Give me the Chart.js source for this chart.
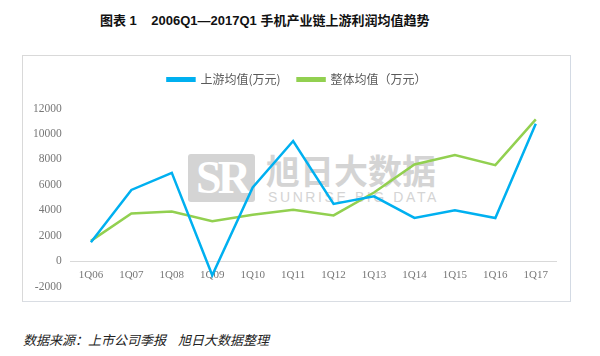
<!DOCTYPE html>
<html>
<head>
<meta charset="utf-8">
<script src="https://cdn.jsdelivr.net/npm/chart.js@4/dist/chart.umd.min.js"></script>
<style>
  html, body { margin: 0; padding: 0; background: #fff; }
  #wrap { position: relative; width: 600px; height: 356px; overflow: hidden; }
  #frame { position: absolute; left: 22px; top: 55px; width: 547px; height: 245px; border: 1px solid #d9d9d9; border-right-color: #d3dae4; border-bottom-color: #d9dde3; }
  #title { position: absolute; left: 100px; top: 10px; font: bold 13px "Liberation Sans", "Noto Sans CJK SC", sans-serif; color: #111; white-space: pre; }
  #foot { position: absolute; left: 23px; top: 330px; font: italic 13px "Noto Sans CJK SC", sans-serif; color: #222; white-space: pre; }
  #foot span { margin-left: 12px; }
  #logo { position: absolute; left: 188px; top: 154px; width: 67px; height: 48px; background: #d4d4d4; border-radius: 3px; color: #fff; font: bold 46px "Liberation Serif", serif; line-height: 48px; text-align: center; letter-spacing: -4px; overflow: hidden; }
  #wm1 { position: absolute; left: 266px; top: 148px; font: bold 34px "Noto Sans CJK SC", sans-serif; color: #d4d4d4; line-height: 44px; letter-spacing: 0px; white-space: pre; }
  #wm2 { position: absolute; left: 268px; top: 189px; font: 14px "Liberation Sans", sans-serif; color: #d4d4d4; letter-spacing: 2.6px; white-space: pre; line-height: 16px; }
  canvas { position: absolute; left: 0; top: 0; }
</style>
</head>
<body>
<div id="wrap">
  <div id="frame"></div>
  <div id="logo">SR</div>
  <div id="wm1">旭日大数据</div>
  <div id="wm2">SUNRISE BIG DATA</div>
  <div id="title">图表 1    2006Q1—2017Q1 手机产业链上游利润均值趋势</div>
  <div id="foot">数据来源：上市公司季报<span>旭日大数据整理</span></div>
  <canvas id="c" width="600" height="356"></canvas>
</div>
<script>
const categories = ["1Q06","1Q07","1Q08","1Q09","1Q10","1Q11","1Q12","1Q13","1Q14","1Q15","1Q16","1Q17"];
const upstreamName = "上游均值(万元)";
const overallName = "整体均值（万元）";
const upstreamValues = [1500, 5600, 6950, -1100, 5800, 9450, 4500, 5100, 3400, 4000, 3400, 10800];
const overallValues  = [1600, 3750, 3900, 3150, 3650, 4050, 3600, 5400, 7600, 8350, 7550, 11150];
const yMin = -2000, yMax = 12000, yStep = 2000;

const legendTweak = {
  id: 'legendTweak',
  beforeInit(chart) {
    const origFit = chart.legend.fit;
    chart.legend.fit = function () {
      origFit.bind(chart.legend)();
      this.height += 13;
    };
  },
  afterLayout(chart) {
    chart.legend.left += 16;
  }
};

new Chart(document.getElementById('c'), {
  type: 'line',
  data: {
    labels: categories,
    datasets: [
      { label: upstreamName, data: upstreamValues, borderColor: '#00b0f0', backgroundColor: '#00b0f0', borderWidth: 2.5, pointRadius: 0, tension: 0, fill: false },
      { label: overallName, data: overallValues, borderColor: '#92d050', backgroundColor: '#92d050', borderWidth: 2.5, pointRadius: 0, tension: 0, fill: false }
    ]
  },
  options: {
    responsive: false,
    animation: false,
    events: [],
    layout: { padding: { top: 56.5, left: 22, right: 44, bottom: 69.3 } },
    plugins: {
      legend: {
        position: 'top',
        labels: {
          boxWidth: 27, boxHeight: 2.5, padding: 17, color: '#595959',
          font: { family: '"Noto Sans CJK SC", sans-serif', size: 12 }
        }
      },
      tooltip: { enabled: false }
    },
    scales: {
      x: {
        position: { y: 0 },
        offset: true,
        grid: { display: false, drawTicks: false },
        border: { display: true, color: '#d9d9d9', width: 1 },
        ticks: { color: '#777', padding: 7, maxRotation: 0, autoSkip: false, font: { family: '"Liberation Serif", serif', size: 11 } },
        afterFit(s) { s.height = 0; }
      },
      y: {
        min: yMin, max: yMax,
        grid: { display: false, drawTicks: false },
        border: { display: false },
        ticks: { stepSize: yStep, color: '#777', padding: 9, font: { family: '"Liberation Serif", serif', size: 11.5 }, callback: v => String(v) },
        afterFit(s) { s.width = 48.7; }
      }
    }
  },
  plugins: [legendTweak]
});
</script>
</body>
</html>
